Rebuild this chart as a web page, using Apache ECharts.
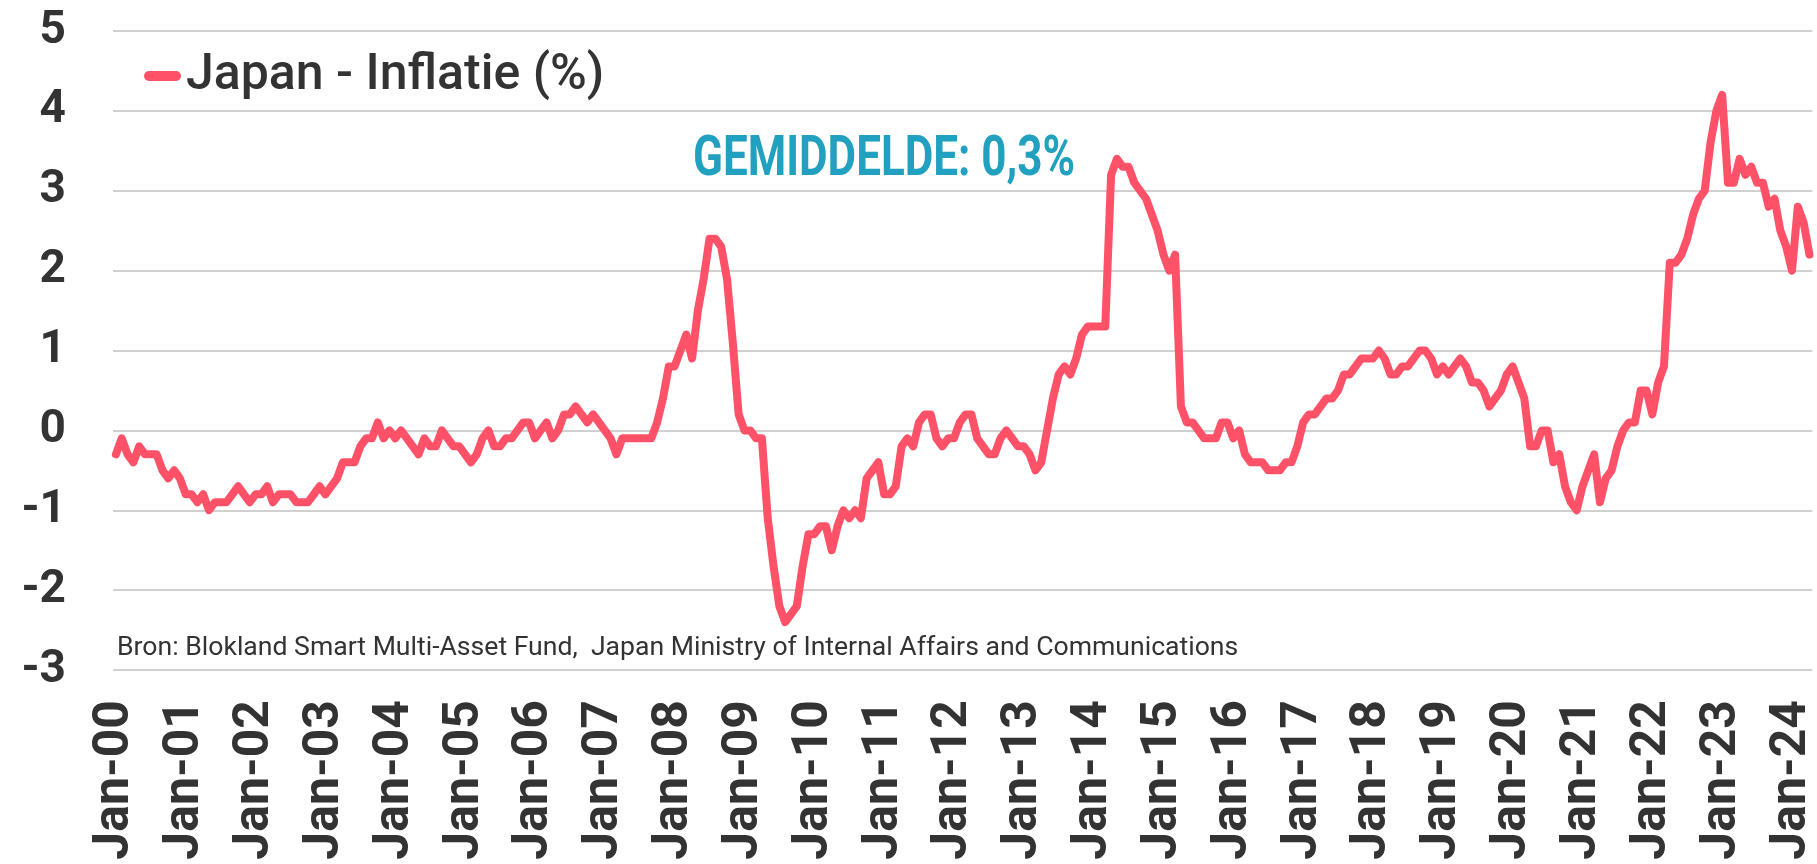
<!DOCTYPE html>
<html>
<head>
<meta charset="utf-8">
<script src="https://cdn.jsdelivr.net/npm/echarts@6/dist/echarts.min.js"></script>
<style>
  html, body { margin: 0; padding: 0; background: #fff; overflow: hidden; }
  #chart { width: 1817px; height: 864px; }
</style>
</head>
<body>
<div id="chart"></div>
<script>
// ─── data: Japan CPI y/y (%), monthly ───
const MONTHS = ["Jan", "Feb", "Mar", "Apr", "May", "Jun", "Jul", "Aug", "Sep", "Oct", "Nov", "Dec"];

const CPI_2000 = [-0.3, -0.1, -0.3, -0.4, -0.2, -0.3, -0.3, -0.3, -0.5, -0.6, -0.5, -0.6];
const CPI_2001 = [-0.8, -0.8, -0.9, -0.8, -1.0, -0.9, -0.9, -0.9, -0.8, -0.7, -0.8, -0.9];
const CPI_2002 = [-0.8, -0.8, -0.7, -0.9, -0.8, -0.8, -0.8, -0.9, -0.9, -0.9, -0.8, -0.7];
const CPI_2003 = [-0.8, -0.7, -0.6, -0.4, -0.4, -0.4, -0.2, -0.1, -0.1, 0.1, -0.1, 0.0];
const CPI_2004 = [-0.1, 0.0, -0.1, -0.2, -0.3, -0.1, -0.2, -0.2, 0.0, -0.1, -0.2, -0.2];
const CPI_2005 = [-0.3, -0.4, -0.3, -0.1, 0.0, -0.2, -0.2, -0.1, -0.1, 0.0, 0.1, 0.1];
const CPI_2006 = [-0.1, 0.0, 0.1, -0.1, 0.0, 0.2, 0.2, 0.3, 0.2, 0.1, 0.2, 0.1];
const CPI_2007 = [0.0, -0.1, -0.3, -0.1, -0.1, -0.1, -0.1, -0.1, -0.1, 0.1, 0.4, 0.8];
const CPI_2008 = [0.8, 1.0, 1.2, 0.9, 1.5, 1.9, 2.4, 2.4, 2.3, 1.9, 1.1, 0.2];
const CPI_2009 = [0.0, 0.0, -0.1, -0.1, -1.1, -1.7, -2.2, -2.4, -2.3, -2.2, -1.7, -1.3];
const CPI_2010 = [-1.3, -1.2, -1.2, -1.5, -1.2, -1.0, -1.1, -1.0, -1.1, -0.6, -0.5, -0.4];
const CPI_2011 = [-0.8, -0.8, -0.7, -0.2, -0.1, -0.2, 0.1, 0.2, 0.2, -0.1, -0.2, -0.1];
const CPI_2012 = [-0.1, 0.1, 0.2, 0.2, -0.1, -0.2, -0.3, -0.3, -0.1, 0.0, -0.1, -0.2];
const CPI_2013 = [-0.2, -0.3, -0.5, -0.4, 0.0, 0.4, 0.7, 0.8, 0.7, 0.9, 1.2, 1.3];
const CPI_2014 = [1.3, 1.3, 1.3, 3.2, 3.4, 3.3, 3.3, 3.1, 3.0, 2.9, 2.7, 2.5];
const CPI_2015 = [2.2, 2.0, 2.2, 0.3, 0.1, 0.1, 0.0, -0.1, -0.1, -0.1, 0.1, 0.1];
const CPI_2016 = [-0.1, 0.0, -0.3, -0.4, -0.4, -0.4, -0.5, -0.5, -0.5, -0.4, -0.4, -0.2];
const CPI_2017 = [0.1, 0.2, 0.2, 0.3, 0.4, 0.4, 0.5, 0.7, 0.7, 0.8, 0.9, 0.9];
const CPI_2018 = [0.9, 1.0, 0.9, 0.7, 0.7, 0.8, 0.8, 0.9, 1.0, 1.0, 0.9, 0.7];
const CPI_2019 = [0.8, 0.7, 0.8, 0.9, 0.8, 0.6, 0.6, 0.5, 0.3, 0.4, 0.5, 0.7];
const CPI_2020 = [0.8, 0.6, 0.4, -0.2, -0.2, 0.0, 0.0, -0.4, -0.3, -0.7, -0.9, -1.0];
const CPI_2021 = [-0.7, -0.5, -0.3, -0.9, -0.6, -0.5, -0.2, 0.0, 0.1, 0.1, 0.5, 0.5];
const CPI_2022 = [0.2, 0.6, 0.8, 2.1, 2.1, 2.2, 2.4, 2.7, 2.9, 3.0, 3.6, 4.0];
const CPI_2023 = [4.2, 3.1, 3.1, 3.4, 3.2, 3.3, 3.1, 3.1, 2.8, 2.9, 2.5, 2.3];
const CPI_2024 = [2.0, 2.8, 2.6, 2.2];

const SERIES_NAME = "Japan - Inflatie (%)";
const AVERAGE_TEXT = "GEMIDDELDE: 0,3%";
const SOURCE_TEXT = "Bron: Blokland Smart Multi-Asset Fund,  Japan Ministry of Internal Affairs and Communications";

const cpi = [].concat(
  CPI_2000, CPI_2001, CPI_2002, CPI_2003, CPI_2004, CPI_2005, CPI_2006, CPI_2007,
  CPI_2008, CPI_2009, CPI_2010, CPI_2011, CPI_2012, CPI_2013, CPI_2014, CPI_2015,
  CPI_2016, CPI_2017, CPI_2018, CPI_2019, CPI_2020, CPI_2021, CPI_2022, CPI_2023, CPI_2024
);

// x-as labels: "Jan-00", "Feb-00", ...
const categories = cpi.map((_, i) => MONTHS[i % 12] + "-" + String(Math.floor(i / 12)).padStart(2, "0"));

const FONT = "Roboto, 'Liberation Sans', sans-serif";
const TEXT_COLOR = "#333333";

// smal (condensed) kopje: breedte met scaleX afstemmen
const avgFontSize = 56;
const measure = document.createElement("canvas").getContext("2d");
measure.font = "bold " + avgFontSize + "px Roboto";
const avgScaleX = 382 / measure.measureText(AVERAGE_TEXT).width;

const chart = echarts.init(document.getElementById("chart"));

chart.setOption({
  animation: false,
  backgroundColor: "#ffffff",
  grid: { left: 113, right: 0, top: 31, bottom: 194 },
  legend: {
    data: [SERIES_NAME],
    left: 139,
    top: 46,
    icon: "path://M5,0 H32 A5,5 0 0 1 32,10 H5 A5,5 0 0 1 5,0 Z",
    itemWidth: 37,
    itemHeight: 10,
    textStyle: { fontSize: 50, fontFamily: FONT, fontWeight: 500, color: TEXT_COLOR },
  },
  xAxis: {
    type: "category",
    data: categories,
    boundaryGap: true,
    axisLine: { show: false },
    axisTick: { show: false },
    splitLine: { show: false },
    axisLabel: {
      interval: 11,
      rotate: 90,
      margin: 30,
      fontSize: 50,
      fontWeight: "bold",
      fontFamily: FONT,
      color: TEXT_COLOR,
    },
  },
  yAxis: {
    type: "value",
    min: -3,
    max: 5,
    interval: 1,
    axisLine: { show: false },
    axisTick: { show: false },
    splitLine: { lineStyle: { color: "#d0d0d0", width: 2 } },
    axisLabel: {
      margin: 47,
      fontSize: 46,
      fontWeight: "bold",
      fontFamily: FONT,
      color: TEXT_COLOR,
    },
  },
  graphic: [
    {
      type: "text",
      x: 693,
      y: 133,
      scaleX: avgScaleX,
      style: {
        text: AVERAGE_TEXT,
        font: "bold " + avgFontSize + "px Roboto",
        fill: "#22a0bf",
        textVerticalAlign: "top",
      },
    },
    {
      type: "text",
      x: 117,
      y: 648,
      style: {
        text: SOURCE_TEXT,
        fontSize: 26.6,
        fontFamily: FONT,
        fill: TEXT_COLOR,
        textVerticalAlign: "middle",
      },
    },
  ],
  series: [
    {
      name: SERIES_NAME,
      type: "line",
      data: cpi,
      showSymbol: false,
      symbol: "none",
      color: "#ff5167",
      lineStyle: { width: 8, color: "#ff5167", cap: "round", join: "round" },
    },
  ],
});
</script>
</body>
</html>
